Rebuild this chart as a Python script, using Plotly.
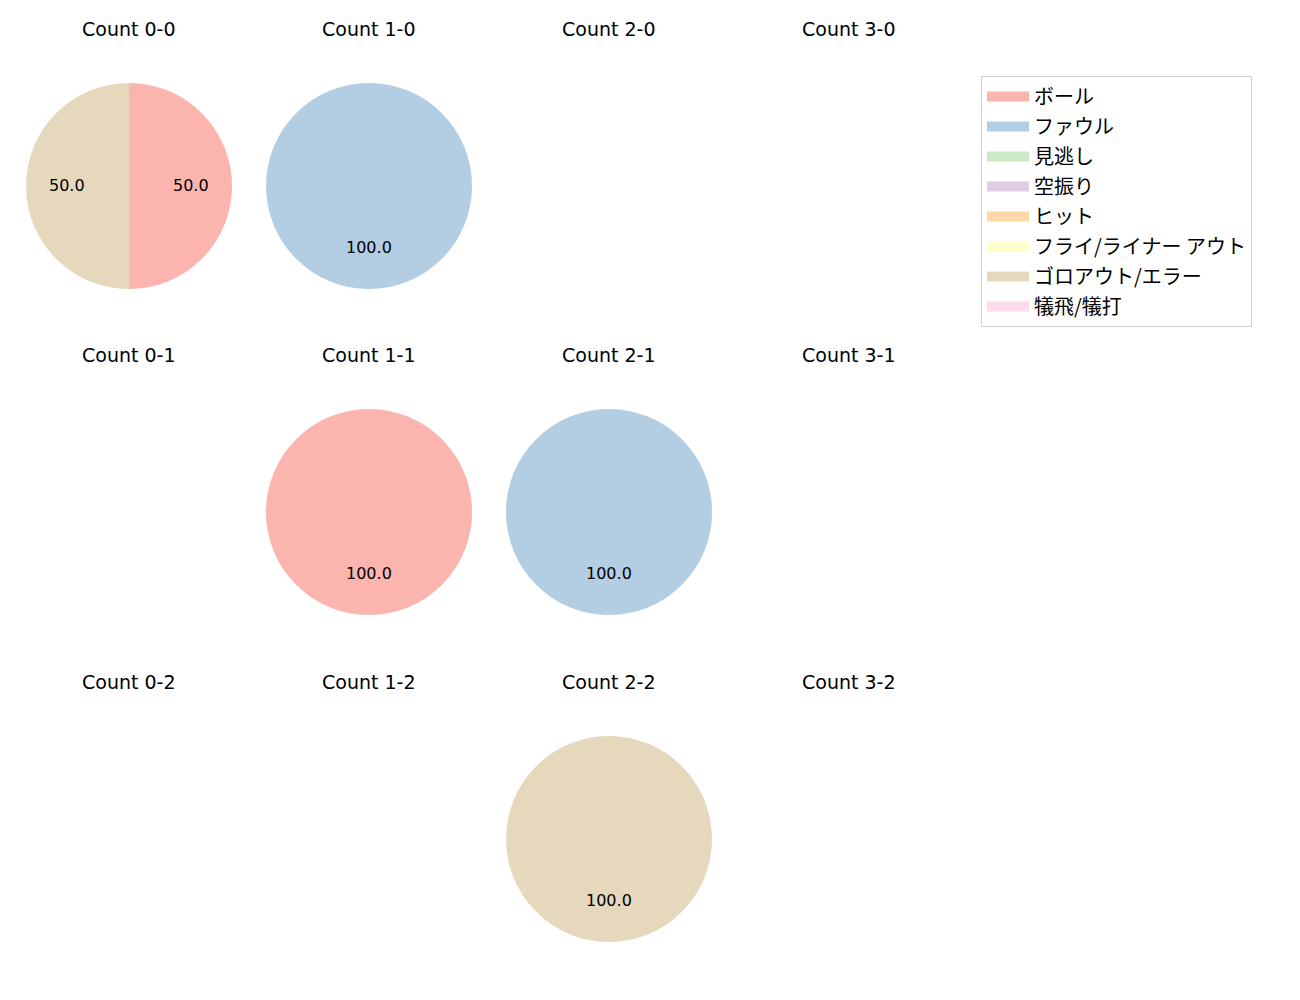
import math
import plotly.graph_objects as go

# categories and colours (Pastel1)
labels = ["ボール", "ファウル", "見逃し", "空振り", "ヒット",
          "フライ/ライナー アウト", "ゴロアウト/エラー", "犠飛/犠打"]
colors = ["#fbb4ae", "#b3cde3", "#ccebc5", "#decbe4", "#fed9a6",
          "#ffffcc", "#e5d8bd", "#fddaec"]

# counts laid out row by row (strikes = row, balls = column)
counts = ["0-0", "1-0", "2-0", "3-0",
          "0-1", "1-1", "2-1", "3-1",
          "0-2", "1-2", "2-2", "3-2"]

# pitch results per count, same order as labels
values = {
    "0-0": [1, 0, 0, 0, 0, 0, 1, 0],
    "1-0": [0, 1, 0, 0, 0, 0, 0, 0],
    "2-0": [0, 0, 0, 0, 0, 0, 0, 0],
    "3-0": [0, 0, 0, 0, 0, 0, 0, 0],
    "0-1": [0, 0, 0, 0, 0, 0, 0, 0],
    "1-1": [1, 0, 0, 0, 0, 0, 0, 0],
    "2-1": [0, 1, 0, 0, 0, 0, 0, 0],
    "3-1": [0, 0, 0, 0, 0, 0, 0, 0],
    "0-2": [0, 0, 0, 0, 0, 0, 0, 0],
    "1-2": [0, 0, 0, 0, 0, 0, 0, 0],
    "2-2": [0, 0, 0, 0, 0, 0, 1, 0],
    "3-2": [0, 0, 0, 0, 0, 0, 0, 0],
}

W, H = 1300, 1000
OFF = 8   # page body margin in the browser
FONT = "DejaVu Sans, Noto Sans CJK JP"
col_x = [129, 369, 609, 849]   # pie centres, px
row_y = [186, 512, 839]
R = 103                        # pie radius, px


def px(x):
    return (x - OFF) / W


def py(y):
    return 1 - (y - OFF) / H


fig = go.Figure()
annotations = []

for i, c in enumerate(counts):
    row, col = divmod(i, 4)
    cx, cy = col_x[col], row_y[row]
    annotations.append(dict(text="Count " + c, x=px(cx), y=py(cy - 157),
                            xref="paper", yref="paper", xanchor="center", yanchor="middle",
                            showarrow=False,
                            font=dict(size=19, color="black", family=FONT)))
    vals = values[c]
    total = sum(vals)
    if total == 0:
        continue
    fig.add_trace(go.Pie(
        labels=labels, values=vals, sort=False, direction="clockwise",
        marker=dict(colors=colors, line=dict(width=0)),
        textinfo="none", hoverinfo="label+percent", showlegend=False,
        domain=dict(x=[px(cx - R), px(cx + R)], y=[py(cy + R), py(cy - R)]),
    ))
    # percentage labels at 0.6 radius, mid-angle of each wedge
    acc = 0
    for v in vals:
        if v == 0:
            continue
        mid = (acc + v / 2) / total * 2 * math.pi
        acc += v
        annotations.append(dict(
            text="%.1f" % (v / total * 100),
            x=px(cx + 0.6 * R * math.sin(mid)),
            y=py(cy - 0.6 * R * math.cos(mid)),
            xref="paper", yref="paper", xanchor="center", yanchor="middle",
            showarrow=False,
            font=dict(size=16, color="black", family=FONT)))

# legend entries
for lab, colr in zip(labels, colors):
    fig.add_trace(go.Scatter(x=[None], y=[None], mode="lines", name=lab,
                             legendgroup=lab,
                             line=dict(color=colr, width=14)))

fig.update_layout(
    width=W, height=H,
    margin=dict(l=0, r=0, t=0, b=0),
    paper_bgcolor="white", plot_bgcolor="white",
    xaxis=dict(visible=False), yaxis=dict(visible=False),
    annotations=annotations,
    font=dict(family=FONT, size=14, color="black"),
    legend=dict(x=px(981), y=py(76), xanchor="left", yanchor="top",
                bordercolor="#d0d0d0", borderwidth=1, bgcolor="white",
                traceorder="grouped", tracegroupgap=1, itemwidth=42,
                font=dict(size=20, family="Noto Sans CJK JP", color="black")),
    showlegend=True,
)

fig.write_html("out.html")
